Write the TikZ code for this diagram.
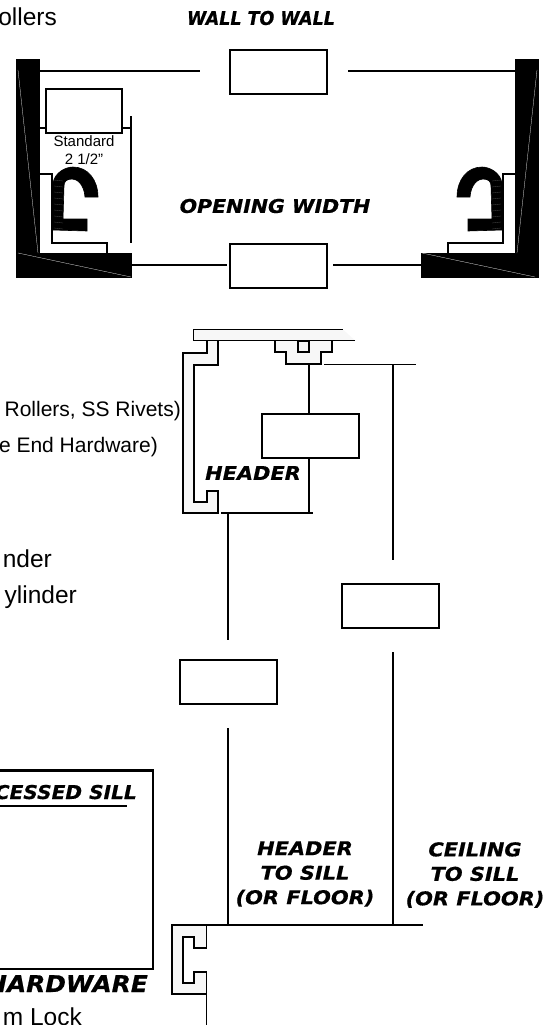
\documentclass[tikz,border=0pt]{standalone}
\usepackage{fontspec}
\setmainfont{Liberation Sans}
\newfontfamily\headfont[FakeBold=0.6]{DejaVu Sans Bold Oblique}
\usetikzlibrary{positioning}
\usetikzlibrary{arrows.meta}
\tikzset{
    dimbox/.style={draw, rectangle, line width=1.6pt, minimum width=97pt, minimum height=44pt, inner sep=0pt},
    smallbox/.style={draw, rectangle, line width=1.6pt, minimum width=76pt, minimum height=44pt, inner sep=0pt},
    dimline/.style={line width=1.5pt},
    thinline/.style={line width=1.5pt},
    profile/.style={draw, line width=1.4pt, fill=black!3},
    hook/.style={draw=black, line width=0.6pt, fill=black},
    headlabel/.style={inner sep=0pt, transform shape, xscale=1.1, font=\headfont\fontsize{19}{24.5}\selectfont, align=center},
    bodylarge/.style={inner sep=0pt, anchor=base east, font=\fontsize{24.5}{28}\selectfont},
    bodysmall/.style={inner sep=0pt, anchor=base east, font=\fontsize{21}{24}\selectfont},
}
\newcommand{\jambshape}{%
    \fill (16,59) rectangle (40,254);
    \fill (16,253) rectangle (132,278);
    \draw[white, line width=0.25pt] (18,70) -- (38,253);
    \draw[thinline] (40,174) -- (52,174) -- (52,243) -- (107,243) -- (107,253);
    \draw[hook] (53,230) -- (53,183) .. controls (55,172) and (66,167) .. (73,167)
        .. controls (88,167) and (98,180) .. (98,197) -- (85,197)
        .. controls (84,184) and (77,179) .. (72,179)
        .. controls (66,179) and (64,182) .. (64,186) -- (63,219) -- (87,219) -- (87,231) -- cycle;
    \foreach \ypos in {180,186,...,228} {
        \draw[black!70, line width=0.3pt] (54,\ypos) -- (63,\ypos+1);
    }
}
\begin{document}
\begin{tikzpicture}[x=1pt,y=-1pt]
    \useasboundingbox (0,0) rectangle (551,1025);

    % top plan view
    \jambshape
    \begin{scope}[xshift=555pt,xscale=-1]
        \jambshape
    \end{scope}
    \fill (421,253) rectangle (424,278);
    \draw[white, line width=0.25pt] (18,253) -- (131,277);
    \draw[white, line width=0.25pt] (422,253) -- (535,277);
    \node[dimbox] (wallbox) at (278.5,72) {};
    \node[dimbox] (openbox) at (278.5,266) {};
    \node[smallbox] (stdbox) at (84,111) {};
    \coordinate (wallleft) at (40,71);
    \coordinate (wallright) at (515,71);
    \coordinate (openleft) at (132,265);
    \coordinate (openright) at (421,265);
    \coordinate (wallgapl) at (200,71);
    \coordinate (wallgapr) at (348,71);
    \coordinate (opengapl) at (227,265);
    \coordinate (opengapr) at (333,265);
    \coordinate (stdleft) at (40,128);
    \coordinate (stdright) at (131,128);
    \coordinate (stdtop) at (131,116);
    \coordinate (stdbot) at (131,243);
    \draw[dimline] (wallleft) -- (wallgapl);
    \draw[dimline] (wallgapr) -- (wallright);
    \draw[dimline] (openleft) -- (opengapl);
    \draw[dimline] (opengapr) -- (openright);
    \draw[thinline] (stdleft) -- (stdbox.west |- stdleft);
    \draw[thinline] (stdbox.east |- stdright) -- (stdright);
    \draw[thinline] (stdtop) -- (stdbot);
    \node[inner sep=0pt, align=center, font=\fontsize{15}{18}\selectfont] (stdtext) at (84,150) {Standard\\2 1/2"};
    \node[headlabel, xscale=0.836] (walltext) at (261,18) {WALL TO WALL};
    \node[headlabel, xscale=0.98] (opentext) at (275,206) {OPENING WIDTH};

    % header section
    \draw[profile] (207,341) -- (207,353) -- (183,353) -- (183,513) -- (218,513) -- (218,491) -- (207,491)
        -- (207,502) -- (194,502) -- (194,365) -- (218,365) -- (218,341);
    \draw[profile] (355,340.5) -- (193.5,340.5) -- (193.5,329.5) -- (343,329.5);
    \draw[profile] (275,341) -- (275,352) -- (286,352) -- (286,364) -- (321,364) -- (321,352) -- (332,352) -- (332,341);
    \draw[thinline] (298,341) rectangle (309,352);
    \node[dimbox] (headbox) at (310.5,436) {};
    \node[dimbox] (floorbox) at (228.5,682) {};
    \node[dimbox] (ceilbox) at (390.5,606) {};
    \node[headlabel] (headtext) at (253,473) {HEADER};
    \coordinate (teefoot) at (309,364);
    \coordinate (headfoot) at (309,513);
    \coordinate (headsilll) at (221,513);
    \coordinate (headsillr) at (313,513);
    \coordinate (leftdrop) at (228,513);
    \coordinate (leftgap) at (228,640);
    \coordinate (leftgap2) at (228,728);
    \coordinate (leftsill) at (228,925);
    \coordinate (ceill) at (324,364.5);
    \coordinate (ceilr) at (416,364.5);
    \coordinate (rightdrop) at (393,364.5);
    \coordinate (rightgap) at (393,560);
    \coordinate (rightgap2) at (393,652);
    \coordinate (rightsill) at (393,925);
    \draw[thinline] (teefoot) -- (headbox.north -| teefoot);
    \draw[thinline] (headbox.south -| teefoot) -- (headfoot);
    \draw[thinline] (headsilll) -- (headsillr);
    \draw[thinline] (leftdrop) -- (leftgap);
    \draw[thinline] (leftgap2) -- (leftsill);
    \draw[thinline] (ceill) -- (ceilr);
    \draw[thinline] (rightdrop) -- (rightgap);
    \draw[thinline] (rightgap2) -- (rightsill);

    % sill section
    \coordinate (sillend) at (423,925);
    \coordinate (sillfoot) at (206.5,994);
    \coordinate (sillbase) at (206.5,1025);
    \draw[profile] (206.5,925) -- (172,925) -- (172,994) -- (206.5,994) -- (206.5,972) -- (194,972) -- (194,983)
        -- (183,983) -- (183,937) -- (194,937) -- (194,948) -- (206.5,948) -- cycle;
    \draw[thinline] (206.5,925) -- (sillend);
    \draw[thinline] (sillfoot) -- (sillbase);
    \node[headlabel] (hstext) at (305,874) {HEADER\\TO SILL\\(OR FLOOR)};
    \node[headlabel] (cstext) at (475,875) {CEILING\\TO SILL\\(OR FLOOR)};

    % text on the left, cut by the page edge
    \node[bodylarge] (t1) at (57,26) {ollers};
    \node[bodysmall] (t2) at (181,416) {Rollers, SS Rivets)};
    \node[bodysmall] (t3) at (158,452) {e End Hardware)};
    \node[bodylarge] (t4) at (52,567) {nder};
    \node[bodylarge] (t5) at (77,603) {ylinder};
    \node[bodylarge] (t6) at (82,1025) {m Lock};
    \draw[line width=2.4pt] (0,770.5) -- (153,770.5) -- (153,969) -- (0,969);
    \node[inner sep=0pt, anchor=base east, transform shape, xscale=1.06, font=\headfont\fontsize{19}{20}\selectfont] (t7) at (137,799) {CESSED SILL};
    \draw[thinline] (0,806) -- (127,806);
    \node[inner sep=0pt, anchor=base east, transform shape, xscale=1.08, font=\headfont\fontsize{23}{24}\selectfont] (t8) at (148,992) {HARDWARE};
\end{tikzpicture}
\end{document}
